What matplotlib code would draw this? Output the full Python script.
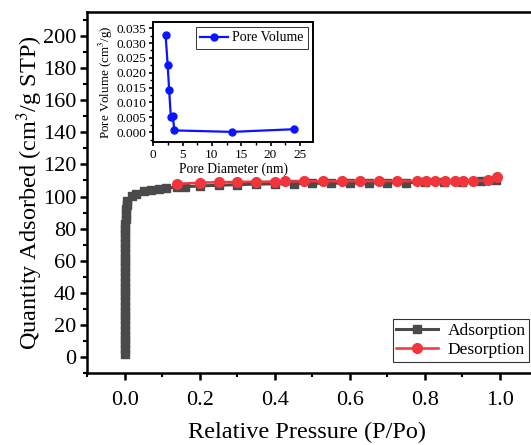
import matplotlib
matplotlib.use("Agg")
import matplotlib.pyplot as plt
from matplotlib.ticker import MultipleLocator, FormatStrFormatter

# Main isotherm data
ads_p = [0.0, 0.0, 0.0, 0.0, 0.0, 0.0, 0.0, 0.0, 0.0, 0.0, 0.0, 0.0, 0.0, 0.0,
         0.0, 0.0, 0.0, 0.0, 0.0, 0.0, 0.0, 0.0, 0.0, 0.0, 0.0003, 0.0006, 0.001,
         0.0015, 0.002, 0.003, 0.004, 0.005, 0.007,
         0.018, 0.03, 0.05, 0.07, 0.09, 0.11, 0.14, 0.16, 0.2, 0.25, 0.3, 0.35,
         0.4, 0.45, 0.5, 0.55, 0.6, 0.65, 0.7, 0.75, 0.8, 0.85, 0.9, 0.95, 0.99]
ads_q = [2, 5, 8, 11, 14, 17, 20, 23, 26, 29, 32, 35, 38, 41,
         44, 47, 50, 53, 56, 59, 62, 65, 68, 71, 74, 77, 80,
         83, 86, 89, 92, 95, 97.5,
         100.5, 101.8, 103.3, 104.2, 104.8, 105.3, 105.8, 106.1, 106.6, 107.0, 107.4, 107.7,
         107.9, 108.1, 108.2, 108.3, 108.4, 108.5, 108.6, 108.7, 108.8, 108.9, 109.1, 109.5, 110.3]

des_p = [0.138, 0.2, 0.251, 0.3, 0.349, 0.4, 0.428, 0.478, 0.527, 0.578, 0.627,
         0.677, 0.726, 0.778, 0.804, 0.827, 0.853, 0.88, 0.902, 0.929, 0.969, 0.991]
des_q = [107.8, 108.6, 108.9, 109.1, 109.2, 109.3, 109.4, 109.5, 109.5, 109.6, 109.6,
         109.6, 109.6, 109.6, 109.6, 109.6, 109.6, 109.6, 109.6, 109.7, 110.0, 112.0]

# Inset pore size distribution
pore_d = [2.1, 2.45, 2.7, 3.0, 3.3, 3.6, 13.4, 24.0]
pore_v = [0.0326, 0.0227, 0.0143, 0.0050, 0.0056, 0.0006, 0.0001, 0.0010]

plt.rcParams['font.family'] = ['Liberation Serif', 'DejaVu Serif']
plt.rcParams['mathtext.fontset'] = 'stix'

fig = plt.figure(figsize=(5.31, 4.45), dpi=100)
ax = fig.add_axes([0.1644, 0.1611, 0.8478, 0.8126])

gray = '#4a4a4a'
red = '#f0363c'
ax.plot(ads_p, ads_q, color=gray, lw=2.2, marker='s', ms=5.8, mec=gray, mfc=gray,
        label='Adsorption', zorder=3)
ax.plot(des_p, des_q, color=red, lw=1.8, marker='o', ms=7, mec=red, mfc=red,
        label='Desorption', zorder=4)

ax.set_xlim(-0.1, 1.1)
ax.set_ylim(-10, 215)
ax.xaxis.set_major_locator(MultipleLocator(0.2))
ax.xaxis.set_minor_locator(MultipleLocator(0.1))
ax.yaxis.set_major_locator(MultipleLocator(20))
ax.yaxis.set_minor_locator(MultipleLocator(10))
ax.xaxis.set_major_formatter(FormatStrFormatter('%.1f'))
ax.tick_params(axis='both', which='major', labelsize=16, length=5, width=1.8, direction='out')
ax.tick_params(axis='both', which='minor', length=3, width=1.5, direction='out')
ax.tick_params(axis='x', pad=8)
ax.tick_params(axis='y', pad=3)
for s in ax.spines.values():
    s.set_linewidth(1.8)
ax.set_xlabel('Relative Pressure (P/Po)', fontsize=17.5, va='top')
ax.xaxis.set_label_coords(0.488, -0.133)
ax.set_ylabel('Quantity Adsorbed (cm$^3$/g STP)', fontsize=17.5)
ax.yaxis.set_label_coords(-0.094, 0.5)

leg = fig.legend(handles=ax.get_lines(), loc='upper left', bbox_to_anchor=(0.7395, 0.283),
                 fontsize=12.5, frameon=True, fancybox=False, edgecolor='black',
                 borderpad=0.2, handlelength=2.4, handletextpad=0.55, labelspacing=0.2,
                 borderaxespad=0)
leg.get_frame().set_linewidth(0.8)

# Inset
ins = fig.add_axes([0.2887, 0.6816, 0.3013, 0.2697])
ins.plot(pore_d, pore_v, color='#0a14ff', lw=1.6, marker='o', ms=5, label='Pore Volume')
ins.set_xlim(0, 27.3)
ins.set_ylim(-0.0032, 0.0372)
ins.xaxis.set_major_locator(MultipleLocator(5))
ins.xaxis.set_minor_locator(MultipleLocator(2.5))
ins.yaxis.set_major_locator(MultipleLocator(0.005))
ins.yaxis.set_minor_locator(MultipleLocator(0.0025))
ins.yaxis.set_major_formatter(FormatStrFormatter('%.3f'))
ins.tick_params(axis='both', which='major', labelsize=9.5, length=3, width=1.2, direction='out', pad=2)
ins.tick_params(axis='both', which='minor', length=2, width=1.0, direction='out')
for s in ins.spines.values():
    s.set_linewidth(1.4)
ins.set_xlabel('Pore Diameter (nm)', fontsize=9.8, labelpad=1)
ins.set_ylabel('Pore Volume (cm$^3$/g)', fontsize=9.4, labelpad=1)
il = ins.legend(loc='upper right', fontsize=10, frameon=True, fancybox=False, edgecolor='black',
                borderpad=0.3, handlelength=2.0, handletextpad=0.3, borderaxespad=0.4)
il.get_frame().set_linewidth(0.7)

fig.savefig('out.png', dpi=100)
